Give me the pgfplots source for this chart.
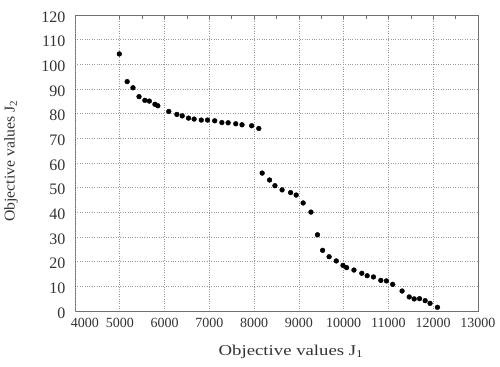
\documentclass[border=0pt]{standalone}
\usepackage{fontspec}
\setmainfont{Liberation Serif}
\usepackage{graphicx}
\usepackage{pgfplots}
\pgfplotsset{compat=1.18}
\definecolor{txt}{HTML}{333333}
\definecolor{framec}{HTML}{707070}
\definecolor{gridc}{HTML}{9A9A9A}
\begin{document}
\begin{tikzpicture}
\useasboundingbox (-75bp,-56bp) rectangle (425bp,311bp);
\begin{axis}[
  scale only axis, width=403bp, height=296bp,
  xmin=4000, xmax=13000, ymin=0, ymax=120,
  xtick={5000,6000,...,13000},
  extra x ticks={4000},
  extra x tick style={xticklabel style={xshift=10bp}},
  ytick={0,10,...,120},
  minor x tick num=1,
  xtick pos=upper, xticklabel pos=lower,
  ytick pos=left,
  tick align=inside,
  major tick length=4bp, minor tick length=4bp,
  tick style={framec, line width=0.6pt},
  ytick style={draw=none},
  grid=major,
  major grid style={gridc, dotted, line width=0.7pt},
  axis line style={framec, line width=0.9pt},
  scaled x ticks=false,
  /pgf/number format/assume math mode=true,
  xticklabel style={/pgf/number format/1000 sep={}, font=\fontsize{14bp}{16bp}\selectfont, text=txt, yshift=-4bp},
  yticklabel style={font=\fontsize{16bp}{18bp}\selectfont, text=txt, xshift=-6bp, yshift=-2bp},
  xlabel={\scalebox{1.25}[1]{Objective values J\textsubscript{1}}},
  ylabel={\scalebox{1.05}[1]{Objective values J\textsubscript{2}}},
  xlabel style={at={(axis description cs:0.536,0)}, anchor=center, yshift=-41bp, font=\fontsize{15bp}{18bp}\selectfont, text=txt},
  ylabel style={at={(axis description cs:0,0.507)}, anchor=center, yshift=64bp, font=\fontsize{15bp}{18bp}\selectfont, text=txt},
]
\addplot[only marks, mark=*, mark size=2.4bp, black] coordinates {
(4990,104.2) (5165,93.0) (5295,90.5) (5430,86.9) (5560,85.4) (5660,85.1)
(5785,83.8) (5850,83.2) (6095,80.9) (6275,79.7) (6395,79.1) (6535,78.2)
(6660,77.8) (6820,77.4) (6960,77.4) (7120,77.1) (7280,76.4) (7420,76.3)
(7590,75.9) (7730,75.5) (7945,75.1) (8105,74.0) (8180,55.9) (8345,53.1)
(8465,50.8) (8625,49.1) (8815,48.0) (8940,47.0) (9095,43.8) (9270,40.1)
(9415,30.9) (9530,24.6) (9675,22.0) (9835,20.3) (9985,18.5) (10065,17.6)
(10230,16.6) (10405,15.3) (10525,14.3) (10665,13.8) (10830,12.4) (10955,12.2)
(11095,10.8) (11305,8.1) (11465,5.7) (11575,4.9) (11695,5.0) (11820,4.2)
(11930,3.1) (12095,1.5)
};
\end{axis}
\end{tikzpicture}
\end{document}
